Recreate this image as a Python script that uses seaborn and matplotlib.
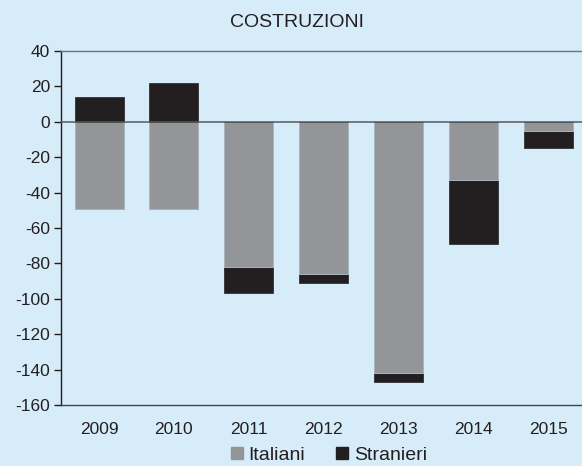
import numpy as np
import pandas as pd
import matplotlib
matplotlib.use("Agg")
import matplotlib.pyplot as plt
from matplotlib.lines import Line2D
import seaborn as sns

# values (thousands)
years = ["2009", "2010", "2011", "2012", "2013", "2014", "2015"]
italiani = [-49, -49, -82, -86, -142, -33, -5]
stranieri = [14, 22, -15, -5, -5, -36, -10]
yticks = [40, 20, 0, -20, -40, -60, -80, -100, -120, -140, -160]

BG = "#d6ecf9"
GREY = "#939598"
BLACK = "#231f20"

sns.set_style("white")
plt.rcParams["font.family"] = ["Liberation Sans", "DejaVu Sans"]

ita = np.array(italiani)
stra = np.array(stranieri)
df = pd.DataFrame({
    "anno": years,
    "italiani": ita,
    "neg_tot": ita + np.minimum(stra, 0),   # black part below grey
    "pos": np.maximum(stra, 0),             # black part above zero
})

fig = plt.figure(figsize=(5.82, 4.66), dpi=100, facecolor=BG)
ax = fig.add_axes([61 / 582, 1 - 405 / 466, 1 - 61 / 582, (405 - 51) / 466])
ax.set_facecolor(BG)

w = 0.655
sns.barplot(data=df, x="anno", y="neg_tot", color=BLACK, width=w,
            saturation=1, ax=ax, edgecolor=BLACK, linewidth=0.5)
sns.barplot(data=df, x="anno", y="italiani", color=GREY, width=w,
            saturation=1, ax=ax, edgecolor="#b5c4cf", linewidth=0.6)
sns.barplot(data=df, x="anno", y="pos", color=BLACK, width=w,
            saturation=1, ax=ax, edgecolor=BLACK, linewidth=0.5)

ax.axhline(0, color="#555a5e", lw=1.1, zorder=3)

ax.set_xlim(-0.508, 6.45)
ax.set_ylim(-160, 40)
ax.set_yticks(yticks)
ax.set_yticklabels([str(t) for t in yticks])
ax.set_xlabel("")
ax.set_ylabel("")

ax.spines["right"].set_visible(False)
ax.spines["top"].set_color("#6d7275")
ax.spines["top"].set_linewidth(1.0)
ax.spines["left"].set_color("#231f20")
ax.spines["left"].set_linewidth(1.0)
ax.spines["bottom"].set_color("#3f4447")
ax.spines["bottom"].set_linewidth(1.0)

ax.tick_params(axis="y", direction="out", length=5, width=1, color="#231f20",
               labelsize=12.5, labelcolor="#231f20", pad=3, left=True)
ax.tick_params(axis="x", length=0, labelsize=12.5, labelcolor="#231f20", pad=12)

fig.text(0.511, 0.951, "COSTRUZIONI", ha="center", va="center",
         fontsize=14, color="#231f20")

handles = [
    Line2D([], [], marker="s", linestyle="none", markersize=8.5,
           markerfacecolor=GREY, markeredgecolor=GREY),
    Line2D([], [], marker="s", linestyle="none", markersize=8.5,
           markerfacecolor=BLACK, markeredgecolor=BLACK),
]
fig.legend(handles, ["Italiani", "Stranieri"], loc="center",
           bbox_to_anchor=(0.562, 0.024), ncol=2, frameon=False,
           fontsize=14, handletextpad=0.1, columnspacing=1.4,
           handlelength=1.0, labelcolor="#231f20", borderpad=0)

fig.savefig("out.png", dpi=100, facecolor=BG)
